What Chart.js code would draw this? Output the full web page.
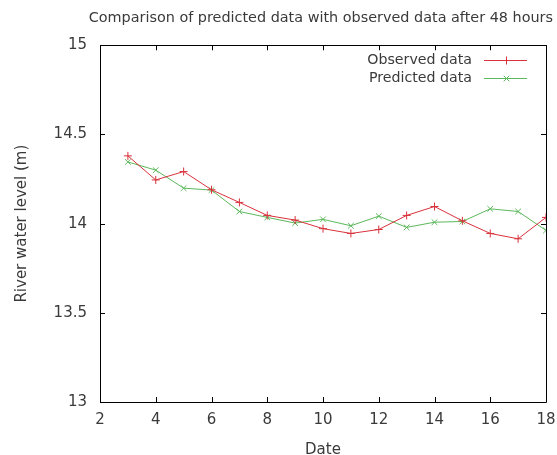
<!DOCTYPE html>
<html>
<head>
<meta charset="utf-8">
<script src="https://cdn.jsdelivr.net/npm/chart.js@4"></script>
<style>
  html, body { margin: 0; padding: 0; background: #fff; }
  canvas { display: block; }
</style>
</head>
<body>
<canvas id="chart" width="557" height="455"></canvas>
<script>
//Datos
const dates = [3, 4, 5, 6, 7, 8, 9, 10, 11, 12, 13, 14, 15, 16, 17, 18];
const observed = [14.38, 14.245, 14.292, 14.19, 14.119, 14.046, 14.02, 13.972, 13.945, 13.967, 14.046, 14.096, 14.016, 13.945, 13.915, 14.035];
const predicted = [14.346, 14.30, 14.199, 14.188, 14.068, 14.035, 14.003, 14.024, 13.988, 14.042, 13.979, 14.008, 14.012, 14.083, 14.068, 13.962];

const xTicks = [2, 4, 6, 8, 10, 12, 14, 16, 18];
const yTicks = [13, 13.5, 14, 14.5, 15];
const yTickLabels = ["13", "13.5", "14", "14.5", "15"];

const RED = "#d9323c";
const GREEN = "#5cb85c";
const TEXT = "#3a3a3a";
const FONT = "DejaVu Sans";
const FSIZE = 15;

function toPoints(ys) { return dates.map((d, i) => ({ x: d, y: ys[i] })); }

//Marco y ticks hacia dentro (estilo gnuplot)
const framePlugin = {
  id: "frame",
  afterDraw(chart) {
    const { ctx, chartArea: a, scales } = chart;
    const len = 5;
    ctx.save();
    ctx.strokeStyle = "#000";
    ctx.lineWidth = 1;
    ctx.beginPath();
    ctx.rect(Math.round(a.left) + 0.5, Math.round(a.top) + 0.5,
      Math.round(a.right - a.left), Math.round(a.bottom - a.top));
    xTicks.forEach(v => {
      const px = Math.round(scales.x.getPixelForValue(v)) + 0.5;
      ctx.moveTo(px, a.bottom); ctx.lineTo(px, a.bottom - len);
      ctx.moveTo(px, a.top); ctx.lineTo(px, a.top + len);
    });
    yTicks.forEach(v => {
      const py = Math.round(scales.y.getPixelForValue(v)) + 0.5;
      ctx.moveTo(a.left, py); ctx.lineTo(a.left + len, py);
      ctx.moveTo(a.right, py); ctx.lineTo(a.right - len, py);
    });
    ctx.stroke();
    ctx.restore();
  }
};

//Leyenda dentro del area (texto a la izquierda, muestra a la derecha)
const keyPlugin = {
  id: "key",
  afterDraw(chart) {
    const { ctx, chartArea: a } = chart;
    const textRight = a.right - 74;
    const x0 = a.right - 62, x1 = a.right - 19;
    const mx = Math.round((x0 + x1) / 2) + 0.5;
    chart.data.datasets.forEach((ds, i) => {
      const y = Math.round(a.top + 15 + i * 18) + 0.5;
      const r = ds.pointRadius;
      ctx.save();
      ctx.font = "14.2px '" + FONT + "'";
      ctx.textAlign = "right";
      ctx.textBaseline = "middle";
      ctx.fillStyle = TEXT;
      ctx.fillText(ds.label, textRight, y);
      ctx.strokeStyle = ds.borderColor;
      ctx.lineWidth = 1;
      ctx.beginPath();
      ctx.moveTo(x0, y); ctx.lineTo(x1, y);
      if (ds.pointStyle === "cross") {
        ctx.moveTo(mx, y - r); ctx.lineTo(mx, y + r);
      } else {
        ctx.moveTo(mx - r * 0.7, y - r * 0.7); ctx.lineTo(mx + r * 0.7, y + r * 0.7);
        ctx.moveTo(mx - r * 0.7, y + r * 0.7); ctx.lineTo(mx + r * 0.7, y - r * 0.7);
      }
      ctx.stroke();
      ctx.restore();
    });
  }
};

new Chart(document.getElementById("chart"), {
  type: "line",
  data: {
    datasets: [
      {
        label: "Observed data", data: toPoints(observed),
        borderColor: RED, backgroundColor: RED, borderWidth: 1,
        pointStyle: "cross", pointRadius: 4, pointBorderWidth: 1, tension: 0
      },
      {
        label: "Predicted data", data: toPoints(predicted),
        borderColor: GREEN, backgroundColor: GREEN, borderWidth: 1,
        pointStyle: "crossRot", pointRadius: 4, pointBorderWidth: 1, tension: 0
      }
    ]
  },
  options: {
    responsive: false, animation: false,
    layout: { padding: { left: 0, right: 4, top: 0, bottom: 0 } },
    plugins: {
      legend: { display: false },
      tooltip: { enabled: false },
      title: {
        display: true, align: "end",
        text: "Comparison of predicted data with observed data after 48 hours",
        color: TEXT, font: { family: FONT, size: 14.4, weight: "normal", lineHeight: 1.2 },
        padding: { top: 10, bottom: 18 }
      }
    },
    scales: {
      x: {
        type: "linear", min: xTicks[0], max: xTicks[xTicks.length - 1],
        afterBuildTicks: s => { s.ticks = xTicks.map(v => ({ value: v })); },
        afterFit: s => { s.height = 53; s.paddingRight = 11; s.paddingLeft = 0; },
        grid: { display: false, drawTicks: false }, border: { display: false },
        ticks: { color: TEXT, font: { family: FONT, size: FSIZE }, padding: 9, maxRotation: 0 },
        title: { display: true, text: "Date", color: TEXT, font: { family: FONT, size: FSIZE, lineHeight: 0.6 }, padding: { top: 0, bottom: 0 } }
      },
      y: {
        min: yTicks[0], max: yTicks[yTicks.length - 1],
        afterBuildTicks: s => { s.ticks = yTicks.map(v => ({ value: v })); },
        afterFit: s => { s.width = 100; },
        grid: { display: false, drawTicks: false }, border: { display: false },
        ticks: {
          color: TEXT, font: { family: FONT, size: FSIZE }, padding: 13,
          callback: (v) => yTickLabels[yTicks.indexOf(v)]
        },
        title: { display: true, text: "River water level (m)", color: TEXT, font: { family: FONT, size: FSIZE, lineHeight: 1.2 }, padding: { top: 13, bottom: 0 } }
      }
    }
  },
  plugins: [framePlugin, keyPlugin]
});
</script>
</body>
</html>
